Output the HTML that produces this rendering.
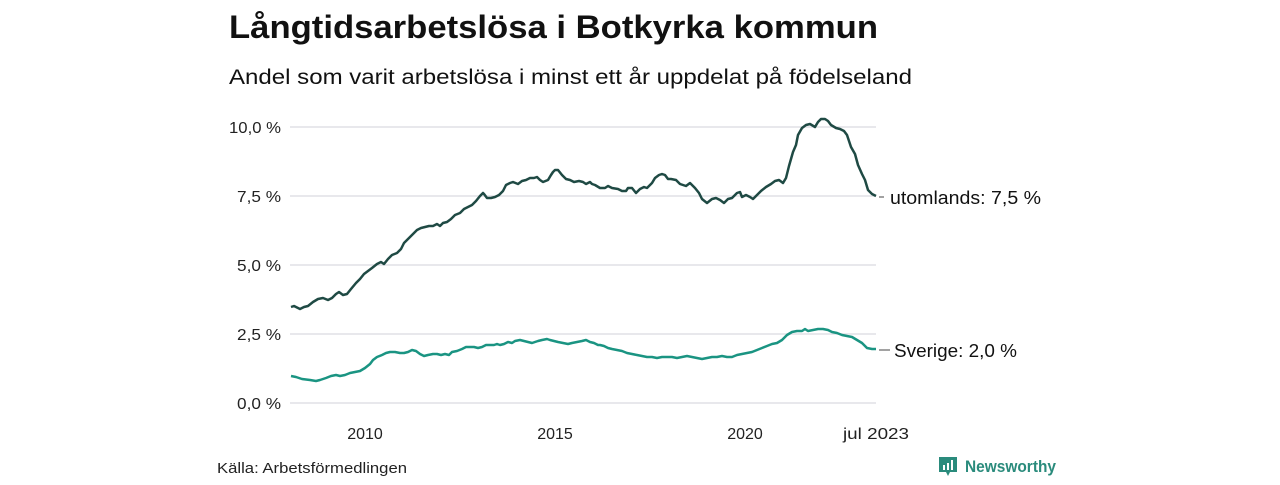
<!DOCTYPE html>
<html><head><meta charset="utf-8"><style>
body{margin:0;width:1280px;height:480px;background:#fff;overflow:hidden;font-family:"Liberation Sans","DejaVu Sans",sans-serif;}
</style></head><body>
<svg width="1280" height="480" xmlns="http://www.w3.org/2000/svg" font-family="Liberation Sans, DejaVu Sans, sans-serif">
<text x="229" y="38" font-size="32" font-weight="bold" fill="#111" textLength="649" lengthAdjust="spacingAndGlyphs">Långtidsarbetslösa i Botkyrka kommun</text>
<text x="229" y="84" font-size="21" fill="#111" textLength="683" lengthAdjust="spacingAndGlyphs">Andel som varit arbetslösa i minst ett år uppdelat på födelseland</text>
<g stroke="#e0e0e6" stroke-width="1.5">
<line x1="290" x2="876" y1="127" y2="127"/><line x1="290" x2="876" y1="196" y2="196"/>
<line x1="290" x2="876" y1="265" y2="265"/><line x1="290" x2="876" y1="334" y2="334"/>
<line x1="290" x2="876" y1="403" y2="403"/></g>
<g font-size="16" fill="#222" text-anchor="end">
<text x="281" y="133" textLength="52" lengthAdjust="spacingAndGlyphs">10,0 %</text><text x="281" y="202" textLength="44" lengthAdjust="spacingAndGlyphs">7,5 %</text><text x="281" y="271" textLength="44" lengthAdjust="spacingAndGlyphs">5,0 %</text>
<text x="281" y="340" textLength="44" lengthAdjust="spacingAndGlyphs">2,5 %</text><text x="281" y="409" textLength="44" lengthAdjust="spacingAndGlyphs">0,0 %</text></g>
<g font-size="16" fill="#222" text-anchor="middle">
<text x="365" y="439">2010</text><text x="555" y="439">2015</text><text x="745" y="439">2020</text><text x="876" y="439" textLength="66" lengthAdjust="spacingAndGlyphs">jul 2023</text></g>
<polyline fill="none" stroke="#1f4a44" stroke-width="2.5" stroke-linejoin="round" points="291,307 294,306 300,309 304,307 308,306 313,302 318,299 323,298 328,300 332,298 336,294 339,292 343,295 347,294 351,289 356,283 360,279 364,274 368,271 372,268 377,264 381,262 384,264 388,259 392,255 397,253 401,249 404,243 408,239 412,235 417,230 421,228 425,227 429,226 433,226 437,224 440,226 443,223 447,222 451,219 455,215 460,213 464,209 468,207 472,205 476,201 480,196 483,193 484,194 487,198 491,198 495,197 499,195 503,191 506,185 510,183 513,182 518,184 522,181 526,180 530,178 534,178 537,177 540,180 543,182 548,180 551,175 553,172 555,170 558,170 562,175 566,179 570,180 574,182 579,181 583,182 586,184 590,182 592,184 595,185 600,188 605,188 608,186 612,188 618,189 622,191 626,191 628,188 632,188 636,193 640,189 644,187 647,188 652,183 655,178 659,175 662,174 665,175 668,179 671,179 676,180 680,184 683,185 686,186 690,183 695,188 699,193 702,199 707,203 712,199 716,198 720,200 724,203 728,199 732,198 737,193 740,192 742,197 746,195 750,197 753,199 757,195 761,191 766,187 771,184 775,181 779,180 783,183 786,178 789,166 793,152 796,145 798,135 802,128 806,125 810,124 815,127 818,122 821,119 825,119 828,121 831,125 836,128 840,129 844,131 847,135 851,147 855,154 858,165 862,174 865,180 868,190 872,194 876,196"/>
<polyline fill="none" stroke="#1a9482" stroke-width="2.5" stroke-linejoin="round" points="291,376 296,377 302,379 310,380 316,381 320,380 326,378 331,376 336,375 340,376 345,375 350,373 355,372 360,371 365,368 370,364 373,360 377,357 382,355 386,353 390,352 395,352 400,353 404,353 408,352 412,350 416,351 420,354 424,356 428,355 433,354 437,354 441,355 445,354 449,355 452,352 457,351 462,349 466,347 470,347 474,347 478,348 482,347 486,345 490,345 494,345 497,344 500,345 504,344 508,342 512,343 515,341 520,340 524,341 528,342 532,343 538,341 542,340 547,339 550,340 554,341 558,342 563,343 568,344 572,343 577,342 582,341 586,340 590,342 594,343 598,345 600,345 604,346 608,348 612,349 617,350 622,351 627,353 632,354 637,355 642,356 647,357 652,357 657,358 662,357 667,357 672,357 677,358 682,357 687,356 692,357 697,358 702,359 707,358 712,357 717,357 722,356 727,357 732,357 737,355 742,354 747,353 752,352 757,350 762,348 767,346 772,344 777,343 782,340 787,335 792,332 797,331 802,331 805,329 808,331 813,330 818,329 823,329 828,330 832,332 837,333 842,335 847,336 852,337 857,340 862,343 867,348 872,349 876,349"/>
<line x1="879" x2="884" y1="197" y2="197" stroke="#444"/>
<line x1="879" x2="890" y1="350" y2="350" stroke="#444"/>
<text x="890" y="204" font-size="18" fill="#111" textLength="151" lengthAdjust="spacingAndGlyphs">utomlands: 7,5 %</text>
<text x="894" y="357" font-size="18" fill="#111" textLength="123" lengthAdjust="spacingAndGlyphs">Sverige: 2,0 %</text>
<text x="217" y="473" font-size="15" fill="#222" textLength="190" lengthAdjust="spacingAndGlyphs">Källa: Arbetsförmedlingen</text>
<g transform="translate(939,457)">
<path d="M0,0 h18 v15 h-7 l-2,4 l-2,-4 h-7 z" fill="#2a8b7c"/>
<rect x="4" y="8" width="2" height="5" fill="#fff"/><rect x="8" y="6" width="2" height="7" fill="#fff"/><rect x="12" y="3" width="2" height="10" fill="#fff"/>
</g>
<text x="965" y="472" font-size="17" font-weight="bold" fill="#2a8b7c" textLength="91" lengthAdjust="spacingAndGlyphs">Newsworthy</text>
</svg>
</body></html>
